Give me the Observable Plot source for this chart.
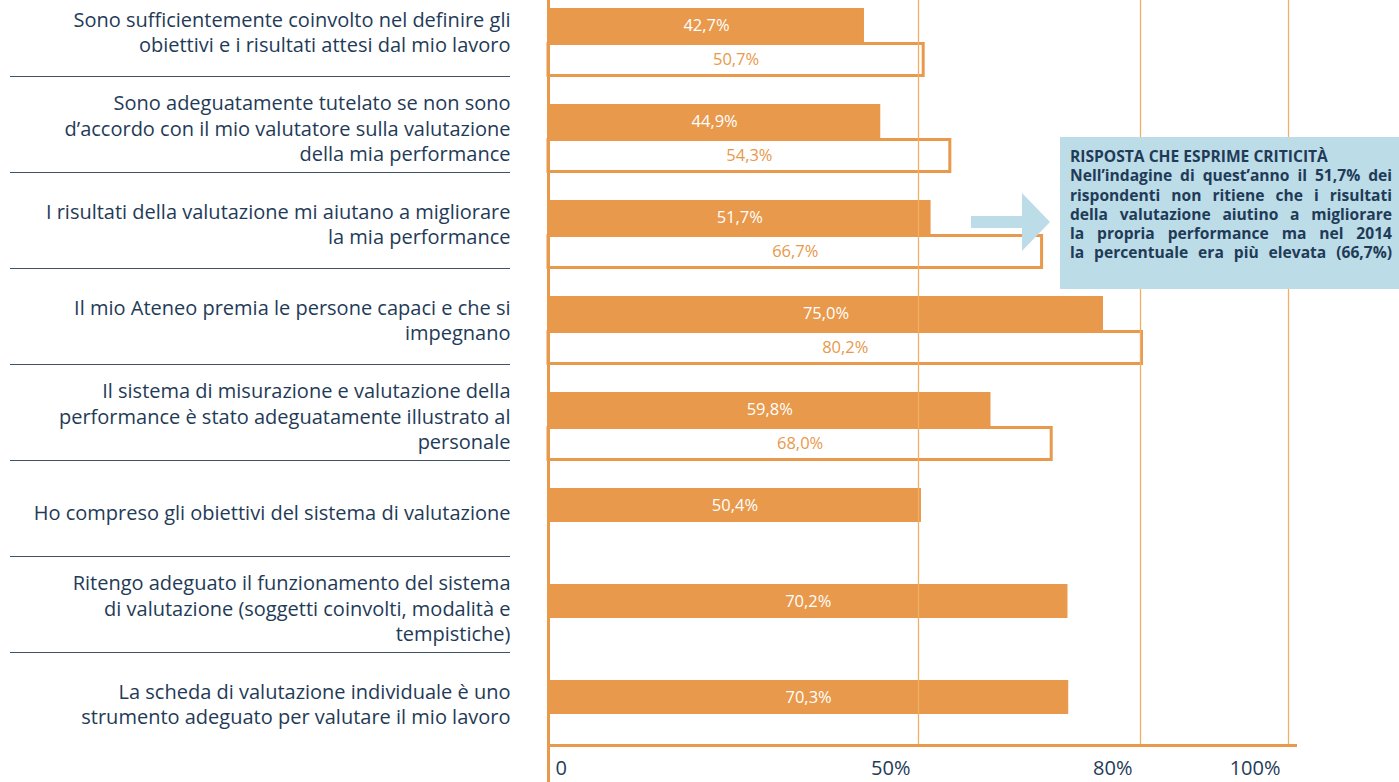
<!DOCTYPE html>
<html><head><meta charset="utf-8">
<script src="https://cdn.jsdelivr.net/npm/d3@7"></script>
<script src="https://cdn.jsdelivr.net/npm/@observablehq/plot@0.6"></script>
<style>
body{margin:0;background:#fff;}
#wrap{position:relative;width:1399px;height:782px;overflow:hidden;font-family:"Open Sans","Noto Sans",sans-serif;background:#fff;}
#note{position:absolute;left:1060px;top:137px;width:339px;height:152px;background:#bcdce8;box-sizing:border-box;padding:10px 7px 0 10px;color:#1f3b57;font-weight:700;font-size:15.6px;line-height:19.3px;}
#note .j{text-align:justify;text-align-last:justify;white-space:nowrap;}
#arrow{position:absolute;left:968px;top:190px;}
</style></head><body><div id="wrap"></div>
<script>
const categories = [
  "Sono sufficientemente coinvolto nel definire gli\nobiettivi e i risultati attesi dal mio lavoro",
  "Sono adeguatamente tutelato se non sono\nd’accordo con il mio valutatore sulla valutazione\ndella mia performance",
  "I risultati della valutazione mi aiutano a migliorare\nla mia performance",
  "Il mio Ateneo premia le persone capaci e che si\nimpegnano",
  "Il sistema di misurazione e valutazione della\nperformance è stato adeguatamente illustrato al\npersonale",
  "Ho compreso gli obiettivi del sistema di valutazione",
  "Ritengo adeguato il funzionamento del sistema\ndi valutazione (soggetti coinvolti, modalità e\ntempistiche)",
  "La scheda di valutazione individuale è uno\nstrumento adeguato per valutare il mio lavoro"
];
const values2015 = [42.7, 44.9, 51.7, 75.0, 59.8, 50.4, 70.2, 70.3];
const values2014 = [50.7, 54.3, 66.7, 80.2, 68.0, null, null, null];
const gridTicks = [50, 80, 100];
const zeroTick = [0];
const noteTitle = "RISPOSTA CHE ESPRIME CRITICITÀ";
const noteLines = [
  "Nell’indagine di quest’anno il 51,7% dei",
  "rispondenti non ritiene che i risultati",
  "della valutazione aiutino a migliorare",
  "la propria performance ma nel 2014",
  "la percentuale era più elevata (66,7%)"
];

const cur = categories.map((c, i) => ({cat: c, value: values2015[i]}));
const prev = categories.map((c, i) => ({cat: c, value: values2014[i]})).filter(d => d.value != null);
const fmt = v => v.toFixed(1).replace(".", ",") + "%";
const orange = "#E8994B";
const grid = "#F3AE66";
const navy = "#1f3b57";

const chart = Plot.plot({
  width: 1399, height: 782,
  marginLeft: 548, marginRight: 104, marginTop: 0, marginBottom: 37,
  x: {domain: [0, 100], range: [548, 1288], axis: null},
  y: {domain: categories, range: [0, 768], padding: 0, axis: null},
  style: {fontFamily: "'Open Sans', 'Noto Sans', sans-serif", background: "#fff"},
  marks: [
    Plot.barX(cur, {y: "cat", x: "value", fill: orange, insetTop: 8, insetBottom: 54}),
    Plot.barX(prev, {y: "cat", x: "value", fill: "white", stroke: orange, strokeWidth: 3, insetTop: 43.5, insetBottom: 20.5}),
    Plot.ruleX(gridTicks, {stroke: grid, strokeWidth: 1.3}),
    Plot.ruleX(zeroTick, {stroke: orange, strokeWidth: 3, insetBottom: -37}),
    Plot.frame({anchor: "bottom", stroke: orange, strokeWidth: 3}),
    Plot.text(cur, {y: "cat", x: d => d.value / 2, text: d => fmt(d.value), fill: "white", fontSize: 16.5, dy: -23}),
    Plot.text(prev, {y: "cat", x: d => d.value / 2, text: d => fmt(d.value), fill: orange, fontSize: 16.5, dy: 11}),
    Plot.text(categories, {y: d => d, text: d => d, frameAnchor: "left", textAnchor: "end", dx: -38, dy: -17, fontSize: 20, lineHeight: 1.27, fill: navy}),
    Plot.ruleY(categories.slice(1), {y: d => d, dy: -68, insetLeft: -538, insetRight: 785, stroke: "#3d5268", strokeWidth: 1.2}),
    Plot.text(zeroTick, {x: d => d, text: d => String(d), frameAnchor: "bottom", dy: 29, dx: 7, textAnchor: "start", fontSize: 20, fill: navy}),
    Plot.text(gridTicks, {x: d => d, text: d => d + "%", frameAnchor: "bottom", dy: 29, dx: -8, textAnchor: "end", fontSize: 20, fill: navy})
  ]
});
const wrap = document.getElementById("wrap");
wrap.appendChild(chart);

const arrow = document.createElement("div");
arrow.id = "arrow";
arrow.innerHTML = '<svg width="90" height="64"><polygon points="3,26 54,26 54,3 82,32 54,61 54,38 3,38" fill="#bcdce8"/></svg>';
wrap.appendChild(arrow);

const note = document.createElement("div");
note.id = "note";
const t = document.createElement("div");
t.textContent = noteTitle;
note.appendChild(t);
for (const l of noteLines) {
  const d = document.createElement("div");
  d.className = "j";
  d.textContent = l;
  note.appendChild(d);
}
wrap.appendChild(note);
</script>
</body></html>
